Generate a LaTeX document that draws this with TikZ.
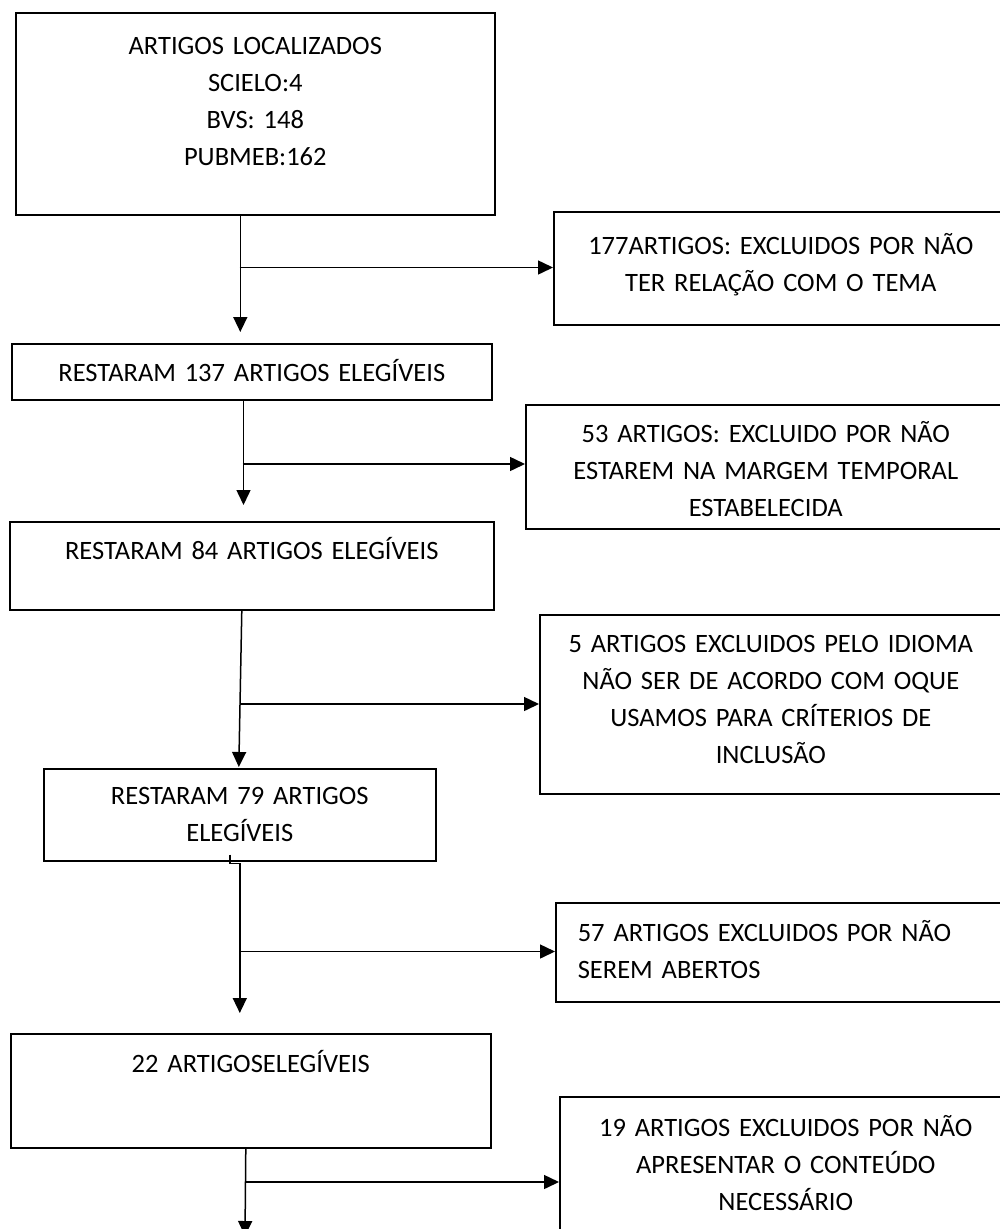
\documentclass[tikz,border=0pt]{standalone}
\usepackage{fontspec}
\setmainfont{Carlito}
\usetikzlibrary{arrows.meta}

\tikzset{
  caixa/.style={draw, line width=1.6pt, anchor=north west, inner sep=0pt, align=center},
  seta/.style={line width=1.5pt, -{Triangle[length=15pt,width=14pt]}}
}

\begin{document}
\begin{tikzpicture}[x=1pt, y=-1pt, font=\fontsize{26.5}{37}\selectfont]
    \useasboundingbox (0,0) rectangle (1000,1229);
    \clip (0,0) rectangle (1000,1229);

    % Coluna da esquerda
    \node[caixa, text width=479pt, text height=41.5pt, text depth=160.5pt] (b1) at (15,12)
        {ARTIGOS LOCALIZADOS\\ SCIELO:4\\ BVS: 148\\ PUBMEB:162};
    \node[caixa, text width=480pt, text height=37.5pt, text depth=18.5pt] (b137) at (11,343)
        {RESTARAM 137 ARTIGOS ELEGÍVEIS};
    \node[caixa, text width=484pt, text height=37.5pt, text depth=50.5pt] (b84) at (9,521)
        {RESTARAM 84 ARTIGOS ELEGÍVEIS};
    \node[caixa, text width=392pt, text height=35.5pt, text depth=56.5pt] (b79) at (43,768)
        {RESTARAM 79 ARTIGOS\\ ELEGÍVEIS};
    \node[caixa, text width=480pt, text height=38.5pt, text depth=75.5pt] (b22) at (10,1033)
        {22 ARTIGOSELEGÍVEIS};

    % Caixas dos excluidos
    \node[caixa, text width=454pt, text height=42.5pt, text depth=70.5pt] (b177) at (553,211)
        {177ARTIGOS: EXCLUIDOS POR NÃO\\ TER RELAÇÃO COM O TEMA};
    \node[caixa, text width=480pt, text height=37.5pt, text depth=86.5pt] (b53) at (525,404)
        {53 ARTIGOS: EXCLUIDO POR NÃO\\ ESTAREM NA MARGEM TEMPORAL\\ ESTABELECIDA};
    \node[caixa, text width=462pt, text height=37.5pt, text depth=141.5pt] (b5) at (539,614)
        {5 ARTIGOS EXCLUIDOS PELO IDIOMA\\ NÃO SER DE ACORDO COM OQUE\\ USAMOS PARA CRÍTERIOS DE\\ INCLUSÃO};
    \node[caixa, align=left, inner xsep=22pt, text width=416pt, text height=38.5pt, text depth=60.5pt] (b57) at (555,902)
        {57 ARTIGOS EXCLUIDOS POR NÃO\\ SEREM ABERTOS};
    \node[caixa, text width=452pt, text height=39.5pt, text depth=160.5pt] (b19) at (559,1096)
        {19 ARTIGOS EXCLUIDOS POR NÃO\\ APRESENTAR O CONTEÚDO\\ NECESSÁRIO};

    % Setas
    \draw[seta, shorten >=11pt] ([xshift=-15pt]b1.south) -- ([xshift=-11.5pt]b137.north);
    \coordinate (r1) at (239.5,267.5);
    \draw[seta] (r1) -- (r1 -| b177.west);

    \draw[seta, shorten >=16pt] ([xshift=-8.3pt]b137.south) -- ([xshift=-8.3pt]b84.north);
    \coordinate (r2) at (242.7,464);
    \draw[seta] (r2) -- (r2 -| b53.west);

    \draw[seta, shorten >=1pt] ([xshift=-10pt]b84.south) -- ([xshift=-1pt]b79.north);
    \coordinate (r3) at (239.5,704);
    \draw[seta] (r3) -- (r3 -| b5.west);

    \draw[seta, shorten >=20pt] ([shift={(-10pt,7pt)}]b79.south) -- ++(0,9) -| ([xshift=-11pt]b22.north);
    \coordinate (r4) at (239,951.5);
    \draw[seta] (r4) -- (r4 -| b57.west);

    \coordinate (fim) at (245,1236);
    \draw[seta] ([xshift=-5pt]b22.south) -- (fim);
    \coordinate (r5) at (246,1182);
    \draw[seta] (r5) -- (r5 -| b19.west);
\end{tikzpicture}
\end{document}
